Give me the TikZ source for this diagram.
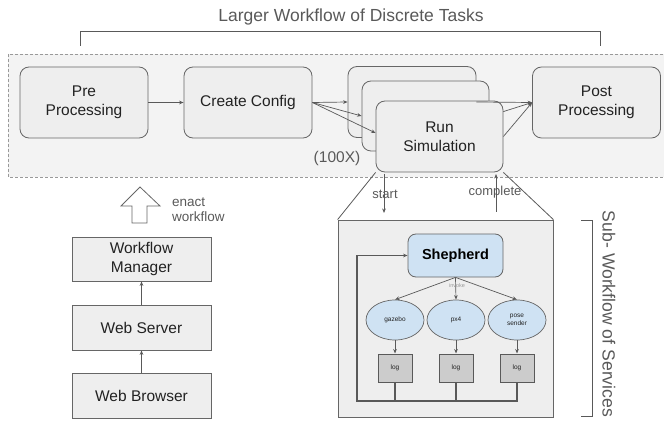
\documentclass[tikz,border=0pt]{standalone}
\usepackage{fontspec}
\setmainfont{Liberation Sans}
\usetikzlibrary{arrows.meta,shapes.geometric,calc}
\definecolor{boxfill}{HTML}{EEEEEE}
\definecolor{bgfill}{HTML}{F3F3F3}
\definecolor{edgec}{HTML}{666666}
\definecolor{txt}{HTML}{222222}
\definecolor{gtxt}{HTML}{595959}
\definecolor{dashc}{HTML}{999999}
\definecolor{blueone}{HTML}{CFE2F3}
\definecolor{logfill}{HTML}{CCCCCC}
\tikzset{
  task/.style={draw=edgec, fill=boxfill, rounded corners=9pt, minimum width=128pt, minimum height=71pt,
    inner sep=0pt, align=center, text=txt, font=\fontsize{15.5}{19.5}\selectfont, line width=0.8pt},
  plainbox/.style={draw=edgec, fill=boxfill, minimum width=139pt, minimum height=45pt,
    inner sep=0pt, align=center, text=txt, font=\fontsize{15.5}{19.5}\selectfont, line width=0.8pt},
  svc/.style={ellipse, draw=edgec, fill=blueone, minimum width=58pt, minimum height=40pt, inner sep=0pt,
    align=center, text=txt, font=\fontsize{6.5}{8}\selectfont, line width=0.7pt},
  logbox/.style={draw=gtxt, fill=logfill, minimum width=34pt, minimum height=28pt, inner sep=0pt,
    text=txt, font=\fontsize{6.5}{8}\selectfont, line width=1pt},
  conn/.style={draw=gtxt, line width=0.7pt, -{Stealth[length=4.5pt,width=3.6pt]}},
  glabel/.style={text=gtxt, inner sep=0pt},
}
\begin{document}
\begin{tikzpicture}[x=1pt,y=-1pt]
\useasboundingbox (0,0) rectangle (664,422);
% background dashed region
\begin{scope}
\clip (0,0) rectangle (664,422);
\draw[dashc, fill=bgfill, dash pattern=on 3pt off 2pt, line width=0.8pt] (8,54) rectangle (670,177);
\end{scope}
% title and bracket
\node[glabel, font=\fontsize{17.5}{20}\selectfont] (title) at (351,17) {Larger Workflow of Discrete Tasks};
\draw[gtxt, line width=0.8pt] (80,46) -- (80,31) -- (600,31) -- (600,46);
% tasks
\node[task] (pre) at (84,102.5) {Pre\\Processing};
\node[task] (cfg) at (248,102.5) {Create Config};
\node[task] (post) at (596.5,102.5) {Post\\Processing};
\node[task] (runA) at (412,102) {};
\node[task, minimum width=127pt, minimum height=70pt] (runB) at (425.5,116) {};
\draw[conn] (runB.east) -- (post.west);
\node[task, minimum width=127pt] (runC) at (439.5,136.5) {Run\\Simulation};
\draw[conn] (pre.east) -- (cfg.west);
\draw[conn] (cfg.east) -- (runA.west);
\draw[conn] (cfg.east) -- (runB.west);
\draw[conn] (cfg.east) -- ($(runC.west)+(0,-3.5)$);
\draw[conn] (runA.east) -- (post.west);
\draw[conn] (runC.east) -- (post.west);
\node[glabel, font=\fontsize{15.5}{18}\selectfont] (hundred) at (337,158) {(100X)};
% sub workflow box
\node[draw=edgec, fill=boxfill, minimum width=215pt, minimum height=197pt, inner sep=0pt, line width=0.8pt] (sub) at (445.5,318.5) {};
\draw[gtxt, line width=0.8pt] (runC.south west) -- (sub.north west);
\draw[gtxt, line width=0.8pt] (runC.south east) -- (sub.north east);
\coordinate (st1) at (384,174);
\coordinate (st2) at (384,213);
\coordinate (cp1) at (496,212);
\coordinate (cp2) at (496,174);
\draw[conn] (st1) -- (st2);
\draw[conn] (cp1) -- (cp2);
\node[glabel, font=\fontsize{13}{15}\selectfont] (startlbl) at (385,194) {start};
\node[glabel, font=\fontsize{13}{15}\selectfont] (completelbl) at (495,192) {complete};
% services
\node[draw=edgec, fill=blueone, rounded corners=8pt, minimum width=95pt, minimum height=43pt, inner sep=0pt,
  font=\fontsize{14.5}{16}\selectfont\bfseries, text=black, line width=0.8pt] (shep) at (455.5,255.5) {Shepherd};
\node[svc] (gz) at (395,320) {gazebo};
\node[svc] (px) at (456,320) {px4};
\node[svc] (ps) at (517,320) {pose\\sender};
\node[logbox] (l1) at (395,368) {log};
\node[logbox] (l2) at (456,368) {log};
\node[logbox] (l3) at (517,368) {log};
\draw[conn] (shep.south) -- (gz.north);
\draw[conn] (shep.south) -- (px.north);
\draw[conn] (shep.south) -- (ps.north);
\node[text=dashc, inner sep=0pt, font=\fontsize{5.5}{6}\selectfont] (inv) at (457,286) {invoke};
\draw[conn] (gz.south) -- (l1.north);
\draw[conn] (px.south) -- (l2.north);
\draw[conn] (ps.south) -- (l3.north);
\coordinate (fbL) at (357,401);
\draw[gtxt, line width=1.1pt] (l1.south) -- (l1.south |- fbL);
\draw[gtxt, line width=1.1pt] (l2.south) -- (l2.south |- fbL);
\draw[gtxt, line width=1.1pt, -{Stealth[length=4.5pt,width=3.6pt]}] (l3.south) |- (fbL) |- (shep.west);
% right bracket
\draw[gtxt, line width=0.8pt] (581,220) -- (592,220) -- (592,416) -- (581,416);
\node[glabel, rotate=-90, font=\fontsize{17.6}{20}\selectfont] (subttl) at (609,314) {Sub- Workflow of Services};
% left stack
\draw[edgec, fill=white, line width=0.8pt] (132,223) -- (147,223) -- (147,206) -- (160,206) -- (140,187) -- (121,206) -- (132,206) -- cycle;
\node[glabel, anchor=west, align=left, font=\fontsize{13.5}{15}\selectfont] (enact) at (172,209.5) {enact\\workflow};
\node[plainbox, minimum height=44pt] (wm) at (141.5,259) {Workflow\\Manager};
\node[plainbox] (ws) at (141.5,327.5) {Web Server};
\node[plainbox] (wb) at (141.5,395.5) {Web Browser};
\draw[conn] (wb.north) -- (ws.south);
\draw[conn] (ws.north) -- (wm.south);
\end{tikzpicture}
\end{document}
